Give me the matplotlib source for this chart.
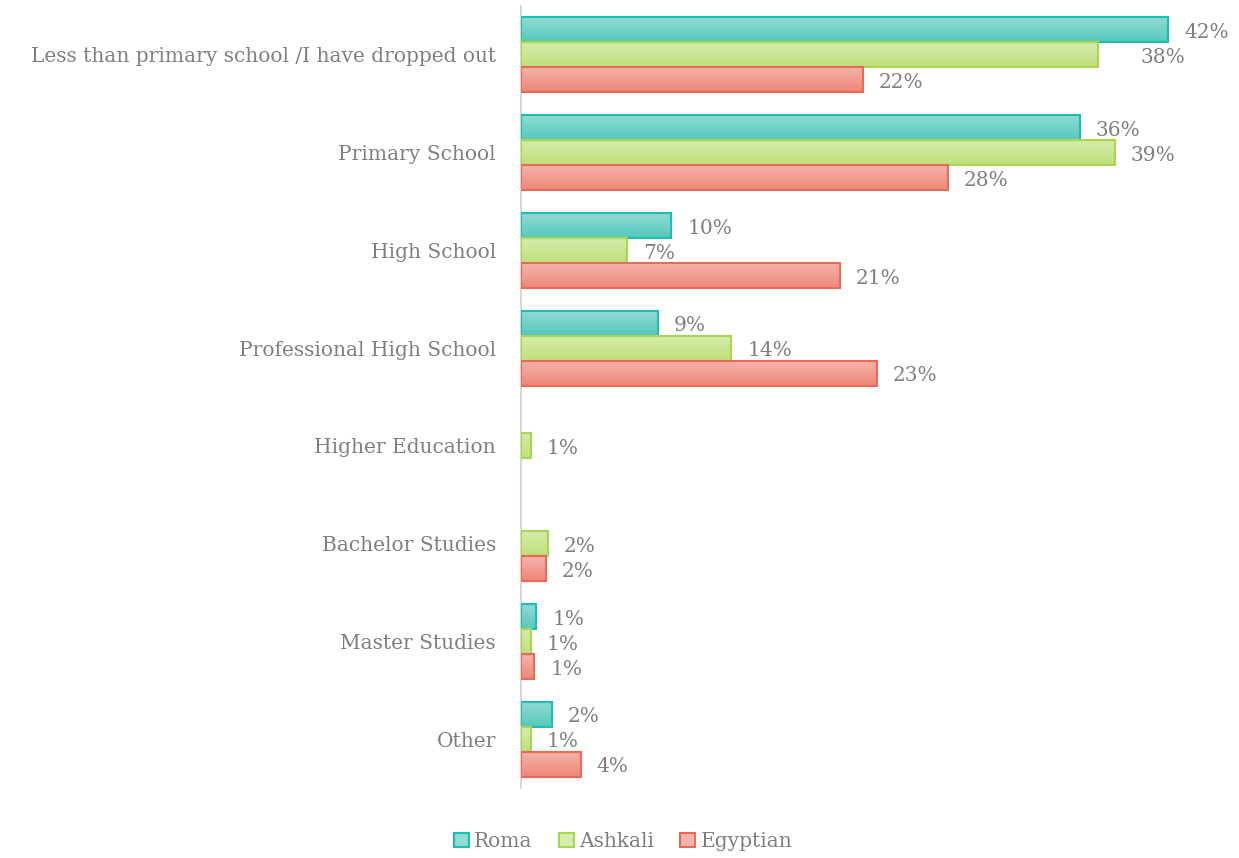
import numpy as np
import matplotlib
matplotlib.use("Agg")
from matplotlib import pyplot as plt
from matplotlib.patches import Patch
from matplotlib.colors import LinearSegmentedColormap

# categories, top to bottom
categories = ["Less than primary school /I have dropped out", "Primary School",
              "High School", "Professional High School", "Higher Education",
              "Bachelor Studies", "Master Studies", "Other"]
series = ["Roma", "Ashkali", "Egyptian"]

# bar lengths (percent), None = no bar
roma = [42.2, 36.4, 9.8, 8.9, None, None, 1.0, 2.0]
ashkali = [37.6, 38.7, 6.9, 13.7, 0.65, 1.75, 0.65, 0.65]
egyptian = [22.3, 27.8, 20.8, 23.2, None, 1.6, 0.85, 3.9]

# printed labels
roma_lbl = ["42%", "36%", "10%", "9%", None, None, "1%", "2%"]
ashkali_lbl = ["38%", "39%", "7%", "14%", "1%", "2%", "1%", "1%"]
egyptian_lbl = ["22%", "28%", "21%", "23%", None, "2%", "1%", "4%"]

# (top colour, bottom colour, edge colour)
colors = [("#93dbd3", "#55c9bc", "#18bfb2"),
          ("#d6ecad", "#bfe07a", "#a9d650"),
          ("#f5b5ad", "#ee8776", "#eb6a57")]
txt = "#7f7f7f"
font = "DejaVu Serif"
fs = 14.5

fig = plt.figure(figsize=(12.39, 8.58), dpi=100)
ax = fig.add_axes([0.4205, 0.0816, 0.953 - 0.4205, 0.993 - 0.0816])

h = 0.256
data = [roma, ashkali, egyptian]
labels = [roma_lbl, ashkali_lbl, egyptian_lbl]
for k in range(3):
    top, bot, edge = colors[k]
    cmap = LinearSegmentedColormap.from_list("g%d" % k, [top, bot])
    grad = np.linspace(0, 1, 64).reshape(-1, 1)
    for i, v in enumerate(data[k]):
        if v is None:
            continue
        yc = i + (k - 1) * h
        ax.imshow(grad, cmap=cmap, aspect="auto", interpolation="bilinear",
                  extent=(0, v, yc + h / 2, yc - h / 2), zorder=2)
        ax.barh(yc, v, height=h, fill=False, edgecolor=edge, linewidth=1.5, zorder=3)
        dx = 11.5
        if labels[k][i] == "38%":
            dx = 31  # this one sits further right in the original
        ax.annotate(labels[k][i], (v, yc), xytext=(dx, -2), textcoords="offset points",
                    va="center", ha="left", color=txt, fontsize=fs, family=font)

ax.set_xlim(0, 43)
ax.set_ylim(len(categories) - 0.5, -0.5)
ax.set_yticks(range(len(categories)))
ax.set_yticklabels(categories, family=font, fontsize=fs, color=txt)
ax.tick_params(axis="y", length=0, pad=18)
ax.set_xticks([])
for s in ["top", "right", "bottom"]:
    ax.spines[s].set_visible(False)
ax.spines["left"].set_color("#d9d9d9")
ax.spines["left"].set_linewidth(1.5)

handles = [Patch(facecolor=c[0], edgecolor=c[2], linewidth=1.5) for c in colors]
fig.legend(handles, series, loc="lower center", bbox_to_anchor=(0.503, -0.013), ncol=3,
           frameon=False, prop={"family": font, "size": fs}, labelcolor=txt,
           handlelength=0.75, handleheight=0.75, handletextpad=0.25, columnspacing=1.3)

fig.savefig("out.png", dpi=100)
